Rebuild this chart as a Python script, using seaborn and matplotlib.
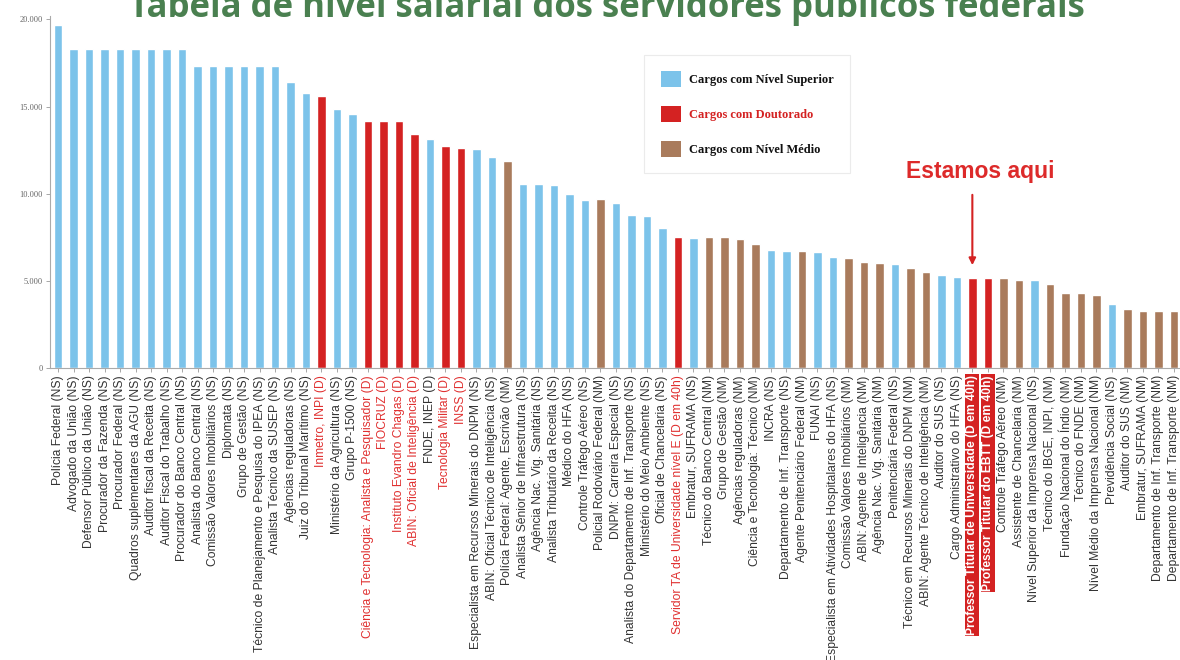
import pandas as pd
import seaborn as sns
import matplotlib.pyplot as plt
from matplotlib.patches import Patch

# Cargos (ordem do gráfico), salário e tipo de cargo
cargos = [
    'Polícia Federal (NS)', 'Advogado da União (NS)', 'Defensor Público da União (NS)',
    'Procurador da Fazenda (NS)', 'Procurador Federal (NS)', 'Quadros suplementares da AGU (NS)',
    'Auditor fiscal da Receita (NS)', 'Auditor Fiscal do Trabalho (NS)', 'Procurador do Banco Central (NS)',
    'Analista do Banco Central (NS)', 'Comissão Valores Imobiliários (NS)', 'Diplomata (NS)',
    'Grupo de Gestão (NS)', 'Técnico de Planejamento e Pesquisa do IPEA (NS)', 'Analista Técnico da SUSEP (NS)',
    'Agências reguladoras (NS)', 'Juiz do Tribunal Marítimo (NS)', 'Inmetro, INPI (D)',
    'Ministério da Agricultura (NS)', 'Grupo P-1500 (NS)', 'Ciência e Tecnologia: Analista e Pesquisador (D)',
    'FIOCRUZ (D)', 'Instituto Evandro Chagas (D)', 'ABIN: Oficial de Inteligência (D)',
    'FNDE, INEP (D)', 'Tecnologia Militar (D)', 'INSS (D)',
    'Especialista em Recursos Minerais do DNPM (NS)', 'ABIN: Oficial Técnico de Inteligência (NS)',
    'Polícia Federal: Agente, Escrivão (NM)', 'Analista Sênior de Infraestrutura (NS)',
    'Agência Nac. Vig. Sanitária (NS)', 'Analista Tributário da Receita (NS)', 'Médico do HFA (NS)',
    'Controle Tráfego Aéreo (NS)', 'Policial Rodoviário Federal (NM)', 'DNPM: Carreira Especial (NS)',
    'Analista do Departamento de Inf. Transporte (NS)', 'Ministério do Meio Ambiente (NS)',
    'Oficial de Chancelaria (NS)', 'Servidor TA de Universidade nível E (D em 40h)',
    'Embratur, SUFRAMA (NS)', 'Técnico do Banco Central (NM)', 'Grupo de Gestão (NM)',
    'Agências reguladoras (NM)', 'Ciência e Tecnologia: Técnico (NM)', 'INCRA (NS)',
    'Departamento de Inf. Transporte (NS)', 'Agente Penitenciário Federal (NM)', 'FUNAI (NS)',
    'Especialista em Atividades Hospitalares do HFA (NS)', 'Comissão Valores Imobiliários (NM)',
    'ABIN: Agente de Inteligência (NM)', 'Agência Nac. Vig. Sanitária (NM)', 'Penitenciária Federal (NS)',
    'Técnico em Recursos Minerais do DNPM (NM)', 'ABIN: Agente Técnico de Inteligência (NM)',
    'Auditor do SUS (NS)', 'Cargo Administrativo do HFA (NS)',
    'Professor Titular de Universidade (D em 40h)', 'Professor Titular do EBTT (D em 40h)',
    'Controle Tráfego Aéreo (NM)', 'Assistente de Chancelaria (NM)',
    'Nível Superior da Imprensa Nacional (NS)', 'Técnico do IBGE, INPI, (NM)',
    'Fundação Nacional do Índio (NM)', 'Técnico do FNDE (NM)', 'Nível Médio da Imprensa Nacional (NM)',
    'Previdência Social (NS)', 'Auditor do SUS (NM)', 'Embratur, SUFRAMA (NM)',
    'Departamento de Inf. Transporte (NM)', 'Departamento de Inf. Transporte (NM)',
]

salarios = [
    19700, 18300, 18300, 18300, 18300, 18300, 18300, 18300, 18300,
    17300, 17300, 17300, 17300, 17300, 17300, 16400, 15800, 15600,
    14850, 14600, 14200, 14200, 14200, 13400, 13150, 12750, 12650,
    12550, 12100, 11900, 10550, 10550, 10500, 10000, 9650, 9700,
    9450, 8800, 8750, 8050, 7550, 7450, 7500, 7500, 7400, 7100,
    6800, 6750, 6700, 6650, 6400, 6300, 6100, 6050, 6000, 5730,
    5500, 5350, 5220, 5160, 5160, 5200, 5080, 5060, 4830, 4300,
    4300, 4200, 3680, 3380, 3290, 3290, 3290,
]

tipos = (['NS'] * 17 + ['D'] + ['NS'] * 2 + ['D'] * 4 + ['NS'] + ['D'] * 2 + ['NS'] * 2 + ['NM']
         + ['NS'] * 5 + ['NM'] + ['NS'] * 4 + ['D'] + ['NS'] + ['NM'] * 4 + ['NS'] * 2 + ['NM']
         + ['NS'] * 2 + ['NM'] * 3 + ['NS'] + ['NM'] * 2 + ['NS'] * 2 + ['D'] * 2 + ['NM'] * 2
         + ['NS'] + ['NM'] * 4 + ['NS'] + ['NM'] * 4)

legenda = {'NS': 'Cargos com Nível Superior', 'D': 'Cargos com Doutorado', 'NM': 'Cargos com Nível Médio'}
cores = {'NS': '#7cc3ea', 'D': '#d42222', 'NM': '#a97b5c'}

df = pd.DataFrame({'pos': range(len(cargos)), 'salario': salarios, 'tipo': tipos})

sns.set_style('white')
plt.rcParams['font.family'] = ['Liberation Sans', 'DejaVu Sans']

fig = plt.figure(figsize=(11.8, 6.6), dpi=100)
ax = fig.add_axes([50 / 1180, 1 - 368.3 / 660, 1130 / 1180, 352.5 / 660])

sns.barplot(data=df, x='pos', y='salario', hue='tipo', palette=cores, dodge=False,
            width=0.55, legend=False, ax=ax, saturation=1)

ax.set_xlim(-0.52, 72.4)
ax.set_ylim(0, 20200)
ax.set_xlabel('')
ax.set_ylabel('')

# eixo y
ax.set_yticks([0, 5000, 10000, 15000, 20000])
ax.set_yticklabels(['0', '5.000', '10.000', '15.000', '20.000'],
                   fontfamily='Liberation Serif', fontsize=6, color='#666666')
# eixo x
ax.set_xticks(range(len(cargos)))
ax.set_xticklabels(cargos, rotation=90, fontsize=8.7, color='#333333')
ax.tick_params(axis='both', length=3, width=0.6, color='#999999', pad=2, left=True, bottom=True)

for lbl, t in zip(ax.get_xticklabels(), tipos):
    txt = lbl.get_text()
    if txt.startswith('Professor Titular'):
        lbl.set_color('white')
        lbl.set_fontweight('bold')
        lbl.set_bbox(dict(facecolor='#d42222', edgecolor='none', pad=0.8))
    elif t == 'D' and not txt.startswith('FNDE'):
        lbl.set_color('#e03030')

sns.despine(ax=ax)
for s in ['left', 'bottom']:
    ax.spines[s].set_color('#aaaaaa')
    ax.spines[s].set_linewidth(0.8)

# legenda
handles = [Patch(facecolor=cores[k], edgecolor='none', label=legenda[k]) for k in ['NS', 'D', 'NM']]
leg = ax.legend(handles=handles, loc='upper left', bbox_to_anchor=(588 / 1130, 1 - 33 / 352.5),
                frameon=True, fancybox=False, borderpad=1.3, labelspacing=1.5,
                handlelength=1.6, handleheight=1.6, handletextpad=0.7,
                prop={'family': 'Liberation Serif', 'weight': 'bold', 'size': 9})
leg.get_frame().set_edgecolor('#e6e6e6')
leg.get_frame().set_linewidth(0.8)
for t, k in zip(leg.get_texts(), ['NS', 'D', 'NM']):
    t.set_color('#d42222' if k == 'D' else '#111111')

# destaque
ax.annotate('', xy=(59, 5750), xytext=(59, 10100),
            arrowprops=dict(arrowstyle='-|>', color='#d42222', lw=1.5, mutation_scale=10))
ax.text(59.5, 11250, 'Estamos aqui', color='#dd2a2a', fontsize=16.5, fontweight='bold',
        ha='center', va='center')

fig.text(0.514, 1 - 17 / 660, 'Tabela de nível salarial dos servidores públicos federais',
         ha='center', va='baseline', fontsize=25, fontweight='bold', color='#4a8050',
         family='Open Sans')

fig.savefig('out.png', dpi=100)
